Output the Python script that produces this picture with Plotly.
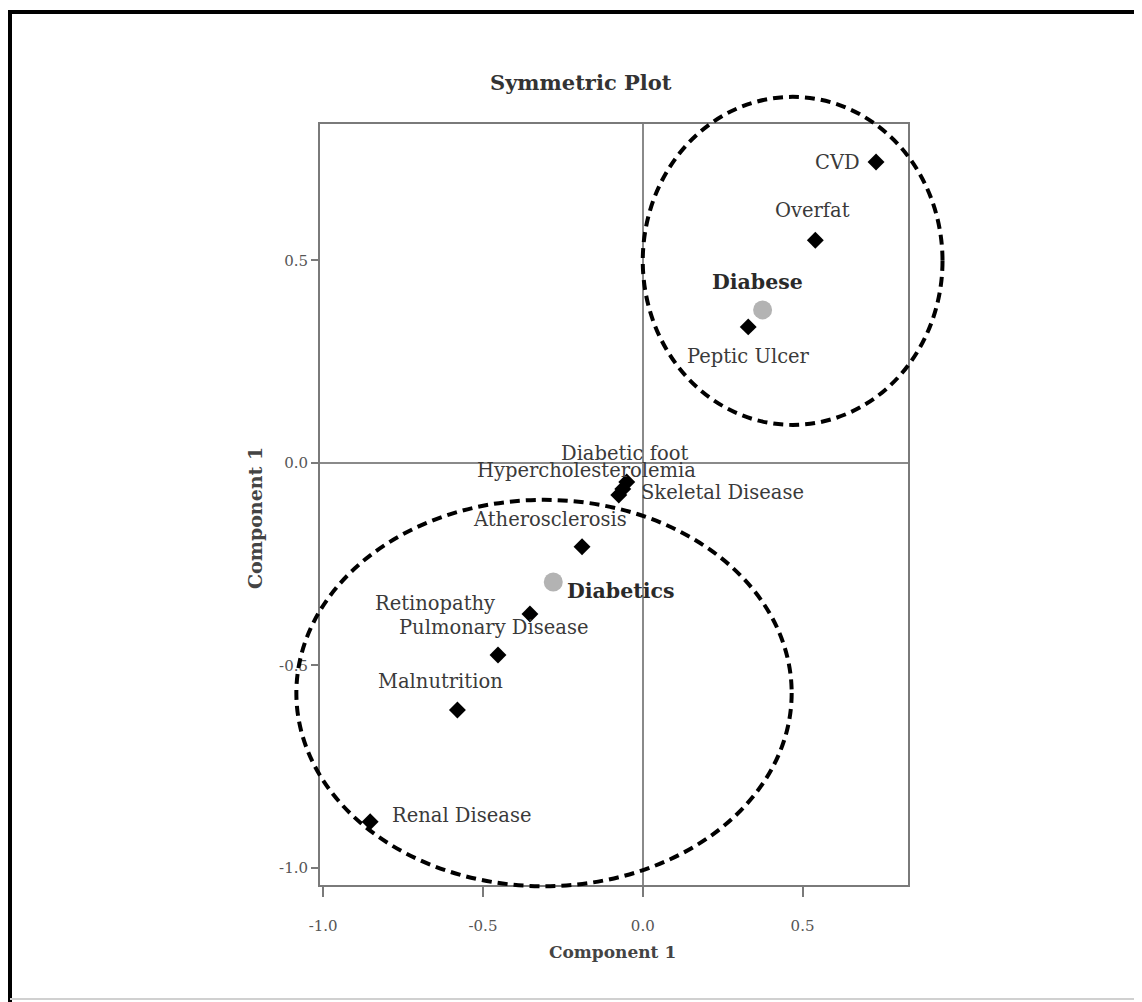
import plotly.graph_objects as go

# ---------------- data ----------------
categories = ["CVD", "Overfat", "Peptic Ulcer", "Diabetic foot", "Hypercholesterolemia",
              "Skeletal Disease", "Atherosclerosis", "Retinopathy", "Pulmonary Disease",
              "Malnutrition", "Renal Disease"]
comp1_x = [0.73, 0.54, 0.33, -0.05, -0.0625, -0.075, -0.19, -0.353, -0.453, -0.58, -0.853]
comp1_y = [0.743, 0.55, 0.336, -0.047, -0.064, -0.079, -0.207, -0.373, -0.474, -0.61, -0.886]

groups = ["Diabese", "Diabetics"]
group_x = [0.375, -0.28]
group_y = [0.378, -0.294]

x_ticks = [-1.0, -0.5, 0.0, 0.5]
x_ticktext = ["-1.0", "-0.5", "0.0", "0.5"]
y_ticks = [-1.0, -0.5, 0.0, 0.5]
y_ticktext = ["-1.0", "-0.5", "0.0", "0.5"]

# cluster ellipses: (center x, center y, radius x, radius y) in data units
clusters = [(0.469, 0.499, 0.469, 0.405), (-0.309, -0.568, 0.775, 0.477)]

# ---------------- styling / layout ----------------
OFF = 8                      # page body margin
W, H = 1142 - OFF, 1002 - OFF
ML, MT = 320 - OFF, 124 - OFF
MR = W - (908 - OFF)
MB = H - (885 - OFF)
XR = [-1.01, 0.83]
YR = [-1.042, 0.837]
FONT = "DejaVu Serif"

# label offsets (pixels): (xshift, yshift, xanchor)
label_style = {
    "CVD": (-39, 0, "center"),
    "Overfat": (-3, 30, "center"),
    "Peptic Ulcer": (0, -30, "center"),
    "Diabetic foot": (-2, 29, "center"),
    "Hypercholesterolemia": (-36, 18, "center"),
    "Skeletal Disease": (20, 2, "left"),
    "Atherosclerosis": (-32, 27, "center"),
    "Retinopathy": (-95, 11, "center"),
    "Pulmonary Disease": (-5, 27, "center"),
    "Malnutrition": (-17, 29, "center"),
    "Renal Disease": (20, 6, "left"),
}
group_style = {
    "Diabese": (-5, 28, "center"),
    "Diabetics": (12, -9, "left"),
}

pw = W - ML - MR
ph = H - MT - MB


def to_paper_x(v):
    return (v - XR[0]) / (XR[1] - XR[0])


def to_paper_y(v):
    return (v - YR[0]) / (YR[1] - YR[0])


def px_to_paper_x(p):
    return (p - OFF - ML) / pw


def px_to_paper_y(p):
    return (H - MB - (p - OFF)) / ph


fig = go.Figure()

fig.add_trace(go.Scatter(
    x=comp1_x, y=comp1_y, mode="markers",
    marker=dict(symbol="diamond", size=13, color="black"),
    hoverinfo="text", text=categories, showlegend=False, cliponaxis=False,
))
fig.add_trace(go.Scatter(
    x=group_x, y=group_y, mode="markers",
    marker=dict(symbol="circle", size=19, color="#b3b3b3"),
    hoverinfo="text", text=groups, showlegend=False, cliponaxis=False,
))

annotations = []
for name, xv, yv in zip(categories, comp1_x, comp1_y):
    dx, dy, anc = label_style[name]
    annotations.append(dict(x=xv, y=yv, xref="x", yref="y", text=name, showarrow=False,
                            xshift=dx, yshift=dy, xanchor=anc, yanchor="middle",
                            font=dict(family=FONT, size=19.5, color="#3a3a3a")))
for name, xv, yv in zip(groups, group_x, group_y):
    dx, dy, anc = group_style[name]
    annotations.append(dict(x=xv, y=yv, xref="x", yref="y", text="<b>" + name + "</b>",
                            showarrow=False, xshift=dx, yshift=dy, xanchor=anc, yanchor="middle",
                            font=dict(family=FONT, size=20.5, color="#2a2a2a")))

# title and axis titles
annotations.append(dict(x=px_to_paper_x(581), y=px_to_paper_y(82), xref="paper", yref="paper",
                        text="<b>Symmetric Plot</b>", showarrow=False, xanchor="center",
                        yanchor="middle", font=dict(family=FONT, size=21, color="#333")))
annotations.append(dict(x=px_to_paper_x(612), y=px_to_paper_y(952), xref="paper", yref="paper",
                        text="<b>Component 1</b>", showarrow=False, xanchor="center",
                        yanchor="middle", font=dict(family=FONT, size=17, color="#444")))
annotations.append(dict(x=px_to_paper_x(255), y=px_to_paper_y(518), xref="paper", yref="paper",
                        text="<b>Component 1</b>", showarrow=False, textangle=-90,
                        xanchor="center", yanchor="middle",
                        font=dict(family=FONT, size=19, color="#444")))

shapes = []
for cx, cy, rx, ry in clusters:
    shapes.append(dict(type="circle", xref="paper", yref="paper",
                       x0=to_paper_x(cx - rx), x1=to_paper_x(cx + rx),
                       y0=to_paper_y(cy - ry), y1=to_paper_y(cy + ry),
                       line=dict(color="black", width=4, dash="10px,6px"), layer="above"))

# outer picture border
shapes.append(dict(type="line", xref="paper", yref="paper",
                   x0=px_to_paper_x(8), x1=px_to_paper_x(1142),
                   y0=px_to_paper_y(12), y1=px_to_paper_y(12),
                   line=dict(color="black", width=4)))
shapes.append(dict(type="line", xref="paper", yref="paper",
                   x0=px_to_paper_x(10), x1=px_to_paper_x(10),
                   y0=px_to_paper_y(10), y1=px_to_paper_y(1002),
                   line=dict(color="black", width=4)))
shapes.append(dict(type="line", xref="paper", yref="paper",
                   x0=px_to_paper_x(10), x1=px_to_paper_x(1142),
                   y0=px_to_paper_y(999), y1=px_to_paper_y(999),
                   line=dict(color="#d0d0d0", width=2)))

axis_common = dict(showgrid=False, zeroline=True, zerolinecolor="#8a8a8a", zerolinewidth=1.5,
                   showline=True, linecolor="#7a7a7a", linewidth=2, mirror=True,
                   ticks="outside", tickcolor="#7a7a7a", tickwidth=1.5)

fig.update_layout(
    width=W, height=H,
    margin=dict(l=ML, r=MR, t=MT, b=MB),
    paper_bgcolor="white", plot_bgcolor="white",
    xaxis=dict(range=XR, tickvals=x_ticks, ticktext=x_ticktext, ticklen=10,
               ticklabelstandoff=16, tickfont=dict(family=FONT, size=15, color="#555"),
               **axis_common),
    yaxis=dict(range=YR, tickvals=y_ticks, ticktext=y_ticktext, ticklen=7,
               tickfont=dict(family=FONT, size=15, color="#555"), **axis_common),
    annotations=annotations, shapes=shapes,
)

fig.write_html("out.html")
